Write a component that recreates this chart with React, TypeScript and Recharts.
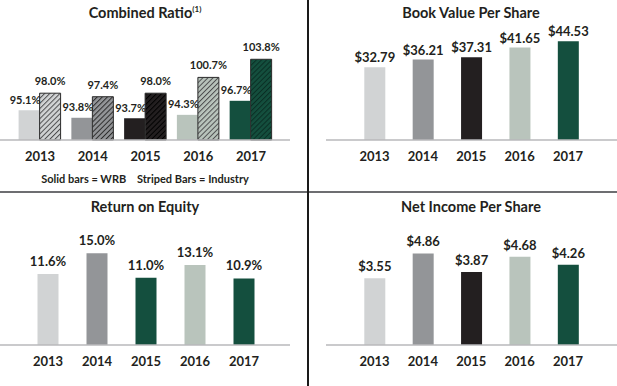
import { BarChart, Bar, XAxis, YAxis, Cell, LabelList } from "recharts";

const years = ["2013", "2014", "2015", "2016", "2017"];
const wrbCombined = [95.1, 93.8, 93.7, 94.3, 96.7];
const industryCombined = [98.0, 97.4, 98.0, 100.7, 103.8];
const bookValue = [32.79, 36.21, 37.31, 41.65, 44.53];
const roe = [11.6, 15.0, 11.0, 13.1, 10.9];
const netIncome = [3.55, 4.86, 3.87, 4.68, 4.26];

const LIGHT = "#d1d3d4";
const GRAY = "#939598";
const BLACK = "#231f20";
const SAGE = "#b9c4bc";
const GREEN = "#144f3e";

const yearColors = [LIGHT, GRAY, BLACK, SAGE, GREEN];
const roeColors = [LIGHT, GRAY, GREEN, SAGE, GREEN];
const stripeColors = ["#4d4d4f", "#2b2b2b", "#000000", "#4d4d4f", "#0a2e24"];

const FONT = "Lato, 'Open Sans', sans-serif";
const TEXT = "#231f20";

const combinedData = years.map((year, i) => ({
  year,
  wrb: wrbCombined[i],
  industry: industryCombined[i],
}));
const bookData = years.map((year, i) => ({ year, value: bookValue[i] }));
const roeData = years.map((year, i) => ({ year, value: roe[i] }));
const niData = years.map((year, i) => ({ year, value: netIncome[i] }));

const pct = (v: number) => `${v.toFixed(1)}%`;
const usd = (v: number) => `$${v.toFixed(2)}`;

function Title({ x, y, children }: { x: number; y: number; children: React.ReactNode }) {
  return (
    <div
      style={{
        position: "absolute",
        left: x - 150,
        top: y - 10,
        width: 300,
        textAlign: "center",
        fontFamily: FONT,
        fontWeight: 700,
        fontSize: 14.5,
        lineHeight: "20px",
        color: TEXT,
      }}
    >
      {children}
    </div>
  );
}

const axisProps = {
  dataKey: "year",
  tickLine: false,
  tickMargin: 6,
  axisLine: { stroke: "#b8b9bb", strokeWidth: 1.5 },
  tick: { fontSize: 13, fontWeight: 700, fill: TEXT, fontFamily: FONT },
};

function offsetLabel(dx: number, lift: number) {
  return (props: any) => {
    const { x, y, width, value } = props;
    return (
      <text
        x={Number(x) + Number(width) / 2 + dx}
        y={Number(y) - lift}
        textAnchor="middle"
        fontSize={11}
        fontWeight={700}
        fontFamily={FONT}
        fill={TEXT}
      >
        {pct(Number(value))}
      </text>
    );
  };
}

function SimplePanel({
  data,
  colors,
  domain,
  top,
  height,
  baseline,
  marginLeft,
  marginRight,
  padLeft,
  padRight,
  format,
  lift,
  width,
}: {
  data: { year: string; value: number }[];
  colors: string[];
  domain: [number, number];
  top: number;
  height: number;
  baseline: number;
  marginLeft: number;
  marginRight: number;
  padLeft: number;
  padRight: number;
  format: (v: number) => string;
  lift: number;
  width: number;
}) {
  return (
    <BarChart
      width={width}
      height={height}
      data={data}
      margin={{ top, right: marginRight, left: marginLeft, bottom: 0 }}
    >
      <XAxis {...axisProps} height={height - baseline} padding={{ left: padLeft, right: padRight }} />
      <YAxis hide domain={domain} />
      <Bar dataKey="value" barSize={21} isAnimationActive={false}>
        {data.map((d, i) => (
          <Cell key={d.year} fill={colors[i]} />
        ))}
        <LabelList
          dataKey="value"
          position="top"
          offset={lift}
          formatter={(v: any) => format(Number(v))}
          style={{ fontSize: 13, fontWeight: 700, fontFamily: FONT, fill: TEXT }}
        />
      </Bar>
    </BarChart>
  );
}

export default function App() {
  return (
    <div
      style={{
        position: "absolute",
        left: 0,
        top: 0,
        width: 617,
        height: 386,
        background: "#fff",
        overflow: "hidden",
      }}
    >
      {/* Combined ratio */}
      <div style={{ position: "absolute", left: 0, top: 0 }}>
        <BarChart
          width={308}
          height={192}
          data={combinedData}
          barGap={0}
          margin={{ top: 23, right: 18, left: 0, bottom: 0 }}
        >
          <defs>
            {years.map((y, i) => (
              <pattern
                key={y}
                id={`stripe-${y}`}
                patternUnits="userSpaceOnUse"
                width={3.6}
                height={3.6}
                patternTransform="rotate(45)"
              >
                <rect width={3.6} height={3.6} fill={yearColors[i]} />
                <line x1={0.5} y1={0} x2={0.5} y2={3.6} stroke={stripeColors[i]} strokeWidth={1} />
              </pattern>
            ))}
          </defs>
          <XAxis {...axisProps} height={52} padding={{ left: 13.6, right: 12.6 }} />
          <YAxis hide domain={[90, 110]} />
          <Bar dataKey="wrb" barSize={21} isAnimationActive={false}>
            {years.map((y, i) => (
              <Cell key={y} fill={yearColors[i]} />
            ))}
            <LabelList dataKey="wrb" content={offsetLabel(-4, 6.5)} />
          </Bar>
          <Bar dataKey="industry" barSize={21} isAnimationActive={false}>
            {years.map((y, i) => (
              <Cell key={y} fill={`url(#stripe-${y})`} stroke="#2b2b2b" strokeWidth={1} />
            ))}
            <LabelList dataKey="industry" content={offsetLabel(0, 8)} />
          </Bar>
        </BarChart>
      </div>
      <Title x={145} y={13}>
        Combined Ratio<sup style={{ fontSize: 8, verticalAlign: "6px", lineHeight: 0 }}>(1)</sup>
      </Title>
      <div
        style={{
          position: "absolute",
          left: 0,
          top: 171,
          width: 290,
          textAlign: "center",
          fontFamily: FONT,
          fontWeight: 700,
          fontSize: 11,
          lineHeight: "16px",
          color: TEXT,
          whiteSpace: "pre",
        }}
      >
        {"Solid bars = WRB    Striped Bars = Industry"}
      </div>

      {/* Book value per share */}
      <div style={{ position: "absolute", left: 308, top: 0 }}>
        <SimplePanel
          data={bookData}
          colors={yearColors}
          domain={[0, 50]}
          top={29}
          width={309}
          height={192}
          baseline={140}
          marginLeft={18}
          marginRight={0}
          padLeft={24.3}
          padRight={24.8}
          format={usd}
          lift={5}
        />
      </div>
      <Title x={471} y={13}>Book Value Per Share</Title>

      {/* Return on equity */}
      <div style={{ position: "absolute", left: 0, top: 193 }}>
        <SimplePanel
          data={roeData}
          colors={roeColors}
          domain={[0, 18]}
          top={42}
          width={308}
          height={193}
          baseline={152}
          marginLeft={0}
          marginRight={18}
          padLeft={23.5}
          padRight={21.5}
          format={pct}
          lift={8}
        />
      </div>
      <Title x={145} y={207}>Return on Equity</Title>

      {/* Net income per share */}
      <div style={{ position: "absolute", left: 308, top: 193 }}>
        <SimplePanel
          data={niData}
          colors={yearColors}
          domain={[0, 6]}
          top={39}
          width={309}
          height={193}
          baseline={152}
          marginLeft={18}
          marginRight={0}
          padLeft={24.3}
          padRight={24.8}
          format={usd}
          lift={7}
        />
      </div>
      <Title x={471} y={207}>Net Income Per Share</Title>

      {/* dividers */}
      <div style={{ position: "absolute", left: 0, top: 191, width: 617, height: 2, background: "#6d6e71" }} />
      <div style={{ position: "absolute", left: 307, top: 0, width: 2, height: 386, background: "#1a1a1a" }} />
    </div>
  );
}
